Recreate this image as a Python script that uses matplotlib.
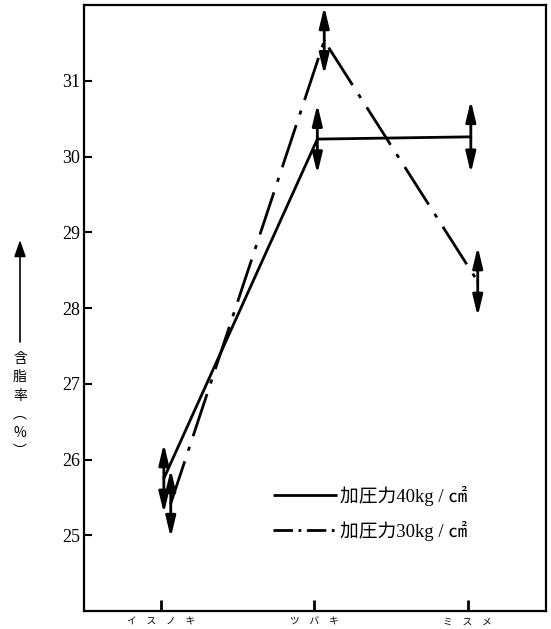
import numpy as np
import matplotlib
matplotlib.use('Agg')
import matplotlib.pyplot as plt

plt.rcParams['font.family'] = ['Liberation Serif', 'Noto Sans CJK JP', 'DejaVu Sans']

# 樹種ごとの含脂率（%）と誤差幅
species = ['イ　ス　ノ　キ', 'ツ　バ　キ', 'ミ　ス　メ']
fat_40 = [25.75, 30.23, 30.26]
err_40 = [0.46, 0.46, 0.48]
fat_30 = [25.42, 31.53, 28.35]
err_30 = [0.45, 0.45, 0.46]
label_40 = '加圧力40kg / ㎠'
label_30 = '加圧力30kg / ㎠'
yticks = [25, 26, 27, 28, 29, 30, 31]

fig = plt.figure(figsize=(5.51, 6.29), dpi=100)
ax = fig.add_axes([0.1525, 0.0286, 0.8385, 0.9634])

x = np.arange(len(species))
x40 = x + 0.02
x30 = x + 0.065

ax.plot(x40, fat_40, color='black', lw=2.0, solid_capstyle='butt', label=label_40)
ax.plot(x30, fat_30, color='black', lw=2.0, dashes=(16, 4, 1.5, 4), label=label_30)

# 上下の矢印で誤差を示す
def updown(xs, ys, es):
    for xi, yi, ei in zip(xs, ys, es):
        for d in (1, -1):
            ax.annotate('', xy=(xi, yi + d * ei), xytext=(xi, yi),
                        arrowprops=dict(arrowstyle='-|>,head_length=1.25,head_width=0.3',
                                        color='black', lw=2.0, mutation_scale=10,
                                        shrinkA=0, shrinkB=0))

updown(x40, fat_40, err_40)
updown(x30, fat_30, err_30)

ax.set_xlim(-0.5, 2.51)
ax.set_ylim(24, 32)
ax.set_xticks(x)
ax.set_xticklabels(species, family=['Noto Sans CJK JP'], fontsize=7)
ax.set_yticks(yticks)
ax.set_yticklabels([str(v) for v in yticks], fontsize=13)
ax.tick_params(axis='x', direction='in', length=8, width=2, pad=4)
ax.tick_params(axis='y', direction='in', length=6, width=1.5, pad=3)
for s in ax.spines.values():
    s.set_linewidth(1.6)

leg = ax.legend(loc='upper left', bbox_to_anchor=(0.41, 0.207), frameon=False,
                handlelength=3.4, handletextpad=0.15, labelspacing=0.8,
                borderpad=0, borderaxespad=0,
                prop={'family': ['Liberation Serif', 'Noto Sans CJK JP'], 'size': 13.5})
leg.get_lines()[1].set_dashes((7, 2, 1, 2))

# 縦軸の見出し
ax.annotate('', xy=(20 / 551, 1 - 240 / 629), xytext=(20 / 551, 1 - 342 / 629),
            xycoords='figure fraction', textcoords='figure fraction',
            annotation_clip=False,
            arrowprops=dict(arrowstyle='-|>,head_length=1.0,head_width=0.35',
                            color='black', lw=1.2, mutation_scale=10,
                            shrinkA=0, shrinkB=0))
fig.text(20 / 551, 1 - 352 / 629, '含\n脂\n率\n︵\n%\n︶', ha='center', va='top',
         fontsize=10, linespacing=1.4, family=['Noto Sans CJK JP', 'DejaVu Sans'])

fig.savefig('out.png', dpi=100)
